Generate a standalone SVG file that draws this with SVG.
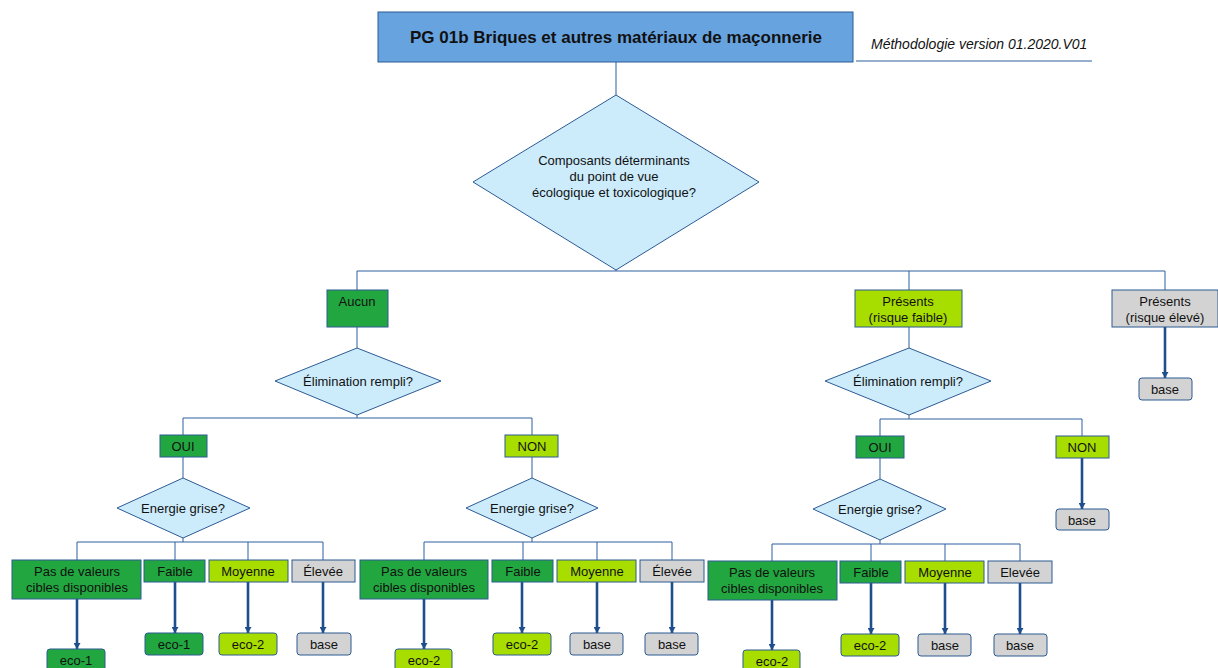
<svg xmlns="http://www.w3.org/2000/svg" width="1218" height="668" viewBox="0 0 1218 668">
<defs>
<marker id="ah" markerWidth="7" markerHeight="7" refX="6" refY="3.5" orient="auto" markerUnits="userSpaceOnUse" viewBox="0 0 7 7">
<path d="M0,0 L6,3.5 L0,7 Z" fill="#1f4e8c"/>
</marker>
<style>
text{font-family:"Liberation Sans",Arial,sans-serif;font-size:13px;fill:#111;text-anchor:middle}
.t{font-size:17px;font-weight:bold}
.m{font-size:14px;font-style:italic;text-anchor:start}
.dg{fill:#22a640;stroke:#2d5b94;stroke-width:1}
.lg{fill:#a8dd00;stroke:#2d5b94;stroke-width:1}
.gr{fill:#d3d3d3;stroke:#2d5b94;stroke-width:1}
.dm{fill:#ccecfc;stroke:#2d5b94;stroke-width:1}
.c{fill:none;stroke:#2f5f9f;stroke-width:1}
.a{fill:none;stroke:#1f4e8c;stroke-width:2.6;marker-end:url(#ah)}
</style>
</defs>
<rect width="1218" height="668" fill="#fff"/>
<g id="connectors">
<path class="c" d="M616,62 V95"/>
<path class="c" d="M357,290 V271 H1165 V290 M909,271 V290 M616,270 V271"/>
<path class="c" d="M357,327 V348"/>
<path class="c" d="M183,435 V418 H532 V435 M357,415 V418"/>
<path class="c" d="M183,457 V478 M532,457 V478"/>
<path class="c" d="M77,560 V542 H323 V560 M175,542 V560 M248,542 V560 M183,538 V542"/>
<path class="c" d="M424,560 V542 H672 V560 M523,542 V560 M597,542 V560 M532,538 V542"/>
<path class="c" d="M909,327 V348"/>
<path class="c" d="M880,436 V419 H1082 V436 M909,415 V419"/>
<path class="c" d="M880,458 V479"/>
<path class="c" d="M772,561 V544 H1020 V561 M871,544 V561 M945,544 V561 M880,540 V544"/>
<path class="a" d="M1165,327 V378"/>
<path class="a" d="M1082,458 V509"/>
<path class="a" d="M77,599 V649"/>
<path class="a" d="M175,582 V633"/>
<path class="a" d="M248,582 V633"/>
<path class="a" d="M323,582 V633"/>
<path class="a" d="M424,599 V649"/>
<path class="a" d="M522,582 V633"/>
<path class="a" d="M597,582 V633"/>
<path class="a" d="M672,582 V633"/>
<path class="a" d="M772,600 V650"/>
<path class="a" d="M871,583 V634"/>
<path class="a" d="M945,583 V634"/>
<path class="a" d="M1020,583 V634"/>
</g>
<g id="title">
<rect x="378" y="12" width="475" height="50" fill="#67a3df" stroke="#2d5b94" stroke-width="1"/>
<text class="t" x="616" y="43">PG 01b Briques et autres matériaux de maçonnerie</text>
</g>
<g id="version">
<text class="m" x="871" y="49">Méthodologie version 01.2020.V01</text>
<line x1="856" y1="61" x2="1092" y2="61" stroke="#2f5f9f" stroke-width="1"/>
</g>
<g id="q1">
<polygon class="dm" points="616,95 759,182 616,270 473,182"/>
<text x="614" y="165">Composants déterminants</text>
<text x="614" y="181">du point de vue</text>
<text x="614" y="197">écologique et toxicologique?</text>
</g>
<g id="aucun"><rect class="dg" x="327" y="290" width="61" height="37"/><text x="357" y="306">Aucun</text></g>
<g id="pfaible"><rect class="lg" x="855" y="290" width="107" height="37"/><text x="908" y="306">Présents</text><text x="908" y="322">(risque faible)</text></g>
<g id="peleve"><rect class="gr" x="1112" y="290" width="106" height="37"/><text x="1165" y="306">Présents</text><text x="1165" y="322">(risque élevé)</text></g>
<g id="base-pe"><rect class="gr" x="1139" y="378" width="53" height="22" rx="3"/><text x="1165" y="394">base</text></g>
<g id="elim1"><polygon class="dm" points="357,348 441,381 357,415 275,381"/><text x="358" y="386">Élimination rempli?</text></g>
<g id="elim2"><polygon class="dm" points="909,348 991,381 909,415 825,381"/><text x="908" y="386">Élimination rempli?</text></g>
<g id="oui1"><rect class="dg" x="160" y="435" width="47" height="22"/><text x="183" y="451">OUI</text></g>
<g id="non1"><rect class="lg" x="505" y="435" width="53" height="22"/><text x="532" y="451">NON</text></g>
<g id="oui2"><rect class="dg" x="856" y="436" width="48" height="22"/><text x="880" y="452">OUI</text></g>
<g id="non2"><rect class="lg" x="1056" y="436" width="53" height="22"/><text x="1082" y="452">NON</text></g>
<g id="base-non2"><rect class="gr" x="1056" y="509" width="53" height="21" rx="3"/><text x="1082" y="525">base</text></g>
<g id="eg1"><polygon class="dm" points="183,478 250,508 183,538 117,508"/><text x="183" y="513">Energie grise?</text></g>
<g id="eg2"><polygon class="dm" points="532,478 598,508 532,538 466,508"/><text x="532" y="513">Energie grise?</text></g>
<g id="eg3"><polygon class="dm" points="880,479 946,509 880,540 813,509"/><text x="880" y="514">Energie grise?</text></g>
<g id="l-pas"><rect class="dg" x="12" y="560" width="129" height="39"/><text x="77" y="576">Pas de valeurs</text><text x="77" y="592">cibles disponibles</text></g>
<g id="l-faible"><rect class="dg" x="144" y="560" width="61" height="22"/><text x="175" y="576">Faible</text></g>
<g id="l-moy"><rect class="lg" x="209" y="560" width="79" height="22"/><text x="248" y="576">Moyenne</text></g>
<g id="l-elev"><rect class="gr" x="292" y="560" width="63" height="22"/><text x="323" y="576">Élevée</text></g>
<g id="l-r1"><rect class="dg" x="47" y="649" width="58" height="24" rx="3"/><text x="76" y="665">eco-1</text></g>
<g id="l-r2"><rect class="dg" x="145" y="633" width="58" height="22" rx="3"/><text x="174" y="649">eco-1</text></g>
<g id="l-r3"><rect class="lg" x="219" y="633" width="58" height="22" rx="3"/><text x="248" y="649">eco-2</text></g>
<g id="l-r4"><rect class="gr" x="297" y="633" width="54" height="22" rx="3"/><text x="324" y="649">base</text></g>
<g id="m-pas"><rect class="dg" x="360" y="560" width="128" height="39"/><text x="424" y="576">Pas de valeurs</text><text x="424" y="592">cibles disponibles</text></g>
<g id="m-faible"><rect class="dg" x="492" y="560" width="61" height="22"/><text x="523" y="576">Faible</text></g>
<g id="m-moy"><rect class="lg" x="557" y="560" width="79" height="22"/><text x="597" y="576">Moyenne</text></g>
<g id="m-elev"><rect class="gr" x="640" y="560" width="64" height="22"/><text x="672" y="576">Élevée</text></g>
<g id="m-r1"><rect class="lg" x="395" y="649" width="57" height="24" rx="3"/><text x="424" y="665">eco-2</text></g>
<g id="m-r2"><rect class="lg" x="493" y="633" width="58" height="22" rx="3"/><text x="522" y="649">eco-2</text></g>
<g id="m-r3"><rect class="gr" x="570" y="633" width="53" height="22" rx="3"/><text x="597" y="649">base</text></g>
<g id="m-r4"><rect class="gr" x="645" y="633" width="53" height="22" rx="3"/><text x="672" y="649">base</text></g>
<g id="r-pas"><rect class="dg" x="708" y="561" width="129" height="39"/><text x="772" y="577">Pas de valeurs</text><text x="772" y="593">cibles disponibles</text></g>
<g id="r-faible"><rect class="dg" x="840" y="561" width="61" height="22"/><text x="871" y="577">Faible</text></g>
<g id="r-moy"><rect class="lg" x="905" y="561" width="79" height="22"/><text x="945" y="577">Moyenne</text></g>
<g id="r-elev"><rect class="gr" x="988" y="561" width="64" height="22"/><text x="1020" y="577">Elevée</text></g>
<g id="r-r1"><rect class="lg" x="743" y="650" width="57" height="24" rx="3"/><text x="772" y="666">eco-2</text></g>
<g id="r-r2"><rect class="lg" x="841" y="634" width="58" height="22" rx="3"/><text x="870" y="650">eco-2</text></g>
<g id="r-r3"><rect class="gr" x="918" y="634" width="53" height="22" rx="3"/><text x="945" y="650">base</text></g>
<g id="r-r4"><rect class="gr" x="994" y="634" width="53" height="22" rx="3"/><text x="1020" y="650">base</text></g>
</svg>
